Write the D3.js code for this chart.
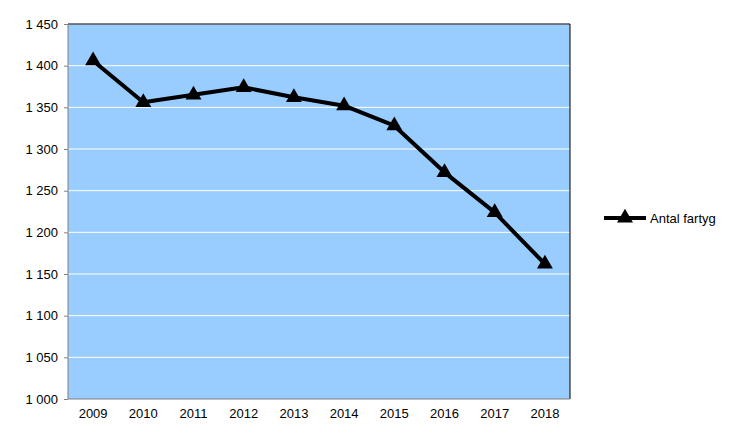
<!DOCTYPE html>
<html><head><meta charset="utf-8">
<script src="https://cdn.jsdelivr.net/npm/d3@7"></script>
<style>body{margin:0;background:#fff}text{font-family:"Liberation Sans",Arial,sans-serif;font-size:13px;fill:#000}</style>
</head><body><svg id="c" width="750" height="438"></svg>
<script>
const years=["2009","2010","2011","2012","2013","2014","2015","2016","2017","2018"];
const values=[1406,1356,1365,1374,1362,1352,1328,1272,1224,1162];
const yTicks=[1000,1050,1100,1150,1200,1250,1300,1350,1400,1450];
const seriesName="Antal fartyg";
const svg=d3.select("#c");
const L=68,R=570,T=24,B=399;
const x=d3.scaleBand().domain(years).range([L,R]);
const y=d3.scaleLinear().domain([1000,1450]).range([B,T]);
svg.append("rect").attr("x",L).attr("y",T).attr("width",R-L).attr("height",B-T).attr("fill","#99CCFF");
svg.selectAll(".g").data(yTicks.slice(1)).join("line").attr("x1",L).attr("x2",R).attr("y1",d=>y(d)).attr("y2",d=>y(d)).attr("stroke","#fff").attr("stroke-width",1);
svg.append("path").attr("d",`M${L},${T}H${R}V${B}`).attr("fill","none").attr("stroke","#000");
svg.append("path").attr("d",`M${L},${T}V${B}H${R}`).attr("fill","none").attr("stroke","#808080");
const fmt=d=>d3.format(",")(d).replace(",", " ");
const ya=svg.append("g").attr("transform",`translate(${L},0)`).call(d3.axisLeft(y).tickValues(yTicks).tickFormat(fmt).tickSize(4).tickPadding(6));
ya.selectAll(".tick line").attr("stroke","#808080");
const xa=svg.append("g").attr("transform",`translate(0,${B})`).call(d3.axisBottom(x).tickSize(0).tickPadding(10));
[ya,xa].forEach(a=>{a.select(".domain").remove();a.selectAll("text").style("font-family","Liberation Sans,Arial").style("font-size","13px").attr("fill","#000");});
const line=d3.line().x((d,i)=>x(years[i])+x.bandwidth()/2).y(d=>y(d));
svg.append("path").datum(values).attr("d",line).attr("fill","none").attr("stroke","#000").attr("stroke-width",4).attr("stroke-linejoin","round");
const tri=d3.symbol().type(d3.symbolTriangle).size(110);
svg.selectAll(".m").data(values).join("path").attr("d",tri).attr("transform",(d,i)=>`translate(${x(years[i])+x.bandwidth()/2},${y(d)})`).attr("fill","#000");
const lg=svg.append("g").attr("transform","translate(604,218)");
lg.append("line").attr("x1",0).attr("x2",42).attr("stroke","#000").attr("stroke-width",4);
lg.append("path").attr("d",tri).attr("transform","translate(21,0)");
lg.append("text").attr("x",46).attr("y",5).text(seriesName);
</script></body></html>
